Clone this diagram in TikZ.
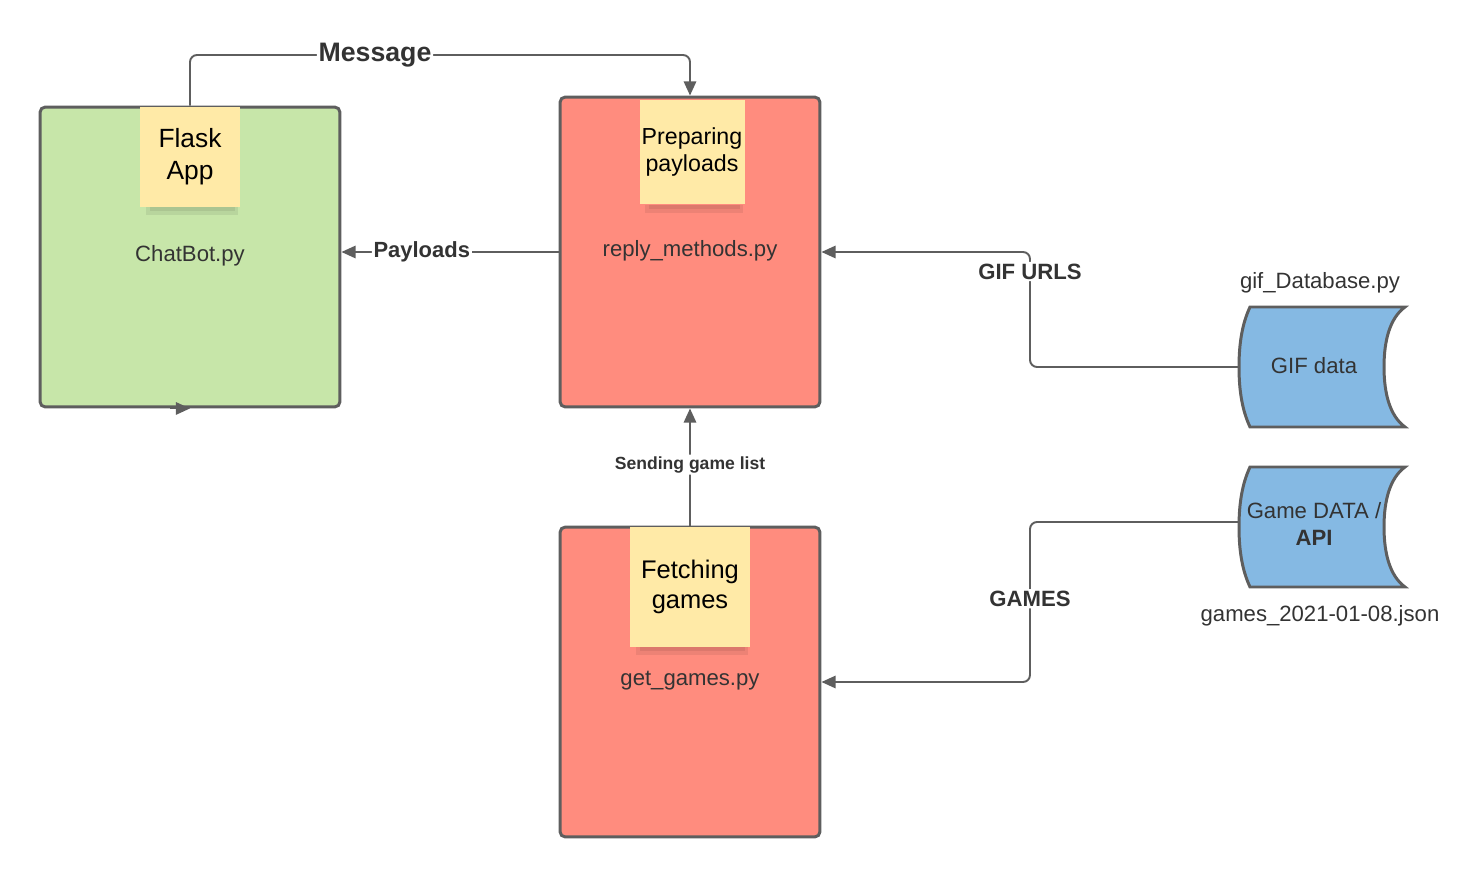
\documentclass[tikz,border=0pt]{standalone}
\usepackage{fontspec}
\setmainfont{Liberation Sans}
\usepackage{xcolor}
\definecolor{verdes}{RGB}{199,230,169}
\definecolor{rojos}{RGB}{255,140,126}
\definecolor{amarillos}{RGB}{255,234,167}
\definecolor{azules}{RGB}{133,185,227}
\definecolor{grises}{RGB}{94,94,94}
\definecolor{textos}{RGB}{51,51,51}
\usepackage{tikz}
\usetikzlibrary{positioning, arrows.meta}
\newcommand{\basedatos}[2]{%
  \draw[base, shift={(#1,#2)}] (11,0) -- (166,0) .. controls (151,11) and (145,33) .. (145,60)
    .. controls (145,87) and (151,109) .. (166,120) -- (11,120)
    .. controls (3,103) and (0,83) .. (0,60) .. controls (0,37) and (3,17) .. (11,0) -- cycle;}

\begin{document}
\begin{tikzpicture}[x=0.02cm, y=-0.02cm,
    caja/.style={draw=grises, line width=1.7pt, rounded corners=3pt, inner sep=0pt},
    nota/.style={fill=amarillos, text=black, align=center, inner sep=0pt},
    flecha/.style={draw=grises, line width=1.1pt, rounded corners=4pt, -{Triangle[length=8pt,width=7pt]}},
    etiqueta/.style={fill=white, text=textos, inner sep=1pt},
    archivo/.style={text=textos, align=center, font=\fontsize{12.6}{15.3}\selectfont},
    base/.style={draw=grises, line width=1.7pt, fill=azules}]
    \useasboundingbox (0,0) rectangle (1480,878);
    % Cajas de los modulos
    \node[caja, fill=verdes, minimum width=6cm, minimum height=6cm] (flask) at (190,257) {};
    \node[caja, fill=rojos, minimum width=5.2cm, minimum height=6.2cm] (reply) at (690,252) {};
    \node[caja, fill=rojos, minimum width=5.2cm, minimum height=6.2cm] (games) at (690,682) {};
    % Notas amarillas
    \node[nota, minimum size=2cm, font=\fontsize{15}{18}\selectfont] (fnota) at (190,157) {Flask\\App};
    \node[nota, minimum size=2.1cm, font=\fontsize{13.2}{15.3}\selectfont] (pnota) at (692,152) {Preparing\\payloads};
    \node[nota, minimum size=2.4cm, font=\fontsize{14.5}{17}\selectfont] (gnota) at (690,587) {Fetching\\games};
    \foreach \n in {fnota, pnota, gnota} {
        \fill[black, opacity=0.07] ([xshift=0.12cm]\n.south west) rectangle ([xshift=-0.04cm, yshift=-0.16cm]\n.south east);
        \fill[black, opacity=0.07] ([xshift=0.2cm]\n.south west) rectangle ([xshift=-0.1cm, yshift=-0.08cm]\n.south east);
    }
    % Nombres de archivo
    \node[archivo] (chatbot) at (190,256) {ChatBot.py};
    \node[archivo] (replytxt) at (690,251) {reply\_methods.py};
    \node[archivo] (gamestxt) at (690,681) {get\_games.py};
    % Bases de datos
    \basedatos{1239}{307}
    \basedatos{1239}{467}
    \node[archivo] (gifdata) at (1314,366) {GIF data};
    \node[archivo] (gamedata) at (1314,524) {Game DATA /\\\textbf{API}};
    \node[archivo] (gifpy) at (1320,283) {gif\_Database.py};
    \node[archivo] (gamejson) at (1320,616) {games\_2021-01-08.json};
    \coordinate (gifport) at (1239,367);
    \coordinate (gameport) at (1239,522);
    % Conectores
    \draw[flecha] (flask.north) -- (flask.north |- 0,55)
        -- node[etiqueta, pos=0.37, font=\fontsize{15.2}{18}\selectfont\bfseries] {Message} (reply.north |- 0,55)
        -- (reply.north);
    \draw[flecha] (reply.west) -- node[etiqueta, pos=0.63, font=\fontsize{12.5}{15}\selectfont\bfseries] {Payloads} (reply.west -| flask.east);
    \draw[flecha] (gifport) -- (1030,367)
        -- node[etiqueta, pos=0.83, font=\fontsize{12.6}{15}\selectfont\bfseries] {GIF URLS} (1030,252)
        -- (reply.east);
    \draw[flecha] (gameport) -- (1030,522)
        -- node[etiqueta, pos=0.48, font=\fontsize{12.6}{15}\selectfont\bfseries] {GAMES} (1030,682)
        -- (games.east);
    \draw[flecha] (games.north) -- node[etiqueta, pos=0.52, font=\fontsize{10}{12}\selectfont\bfseries] {Sending game list} (reply.south);
    \draw[flecha] ([xshift=-0.4cm]flask.south) -- (flask.south);
\end{tikzpicture}
\end{document}
